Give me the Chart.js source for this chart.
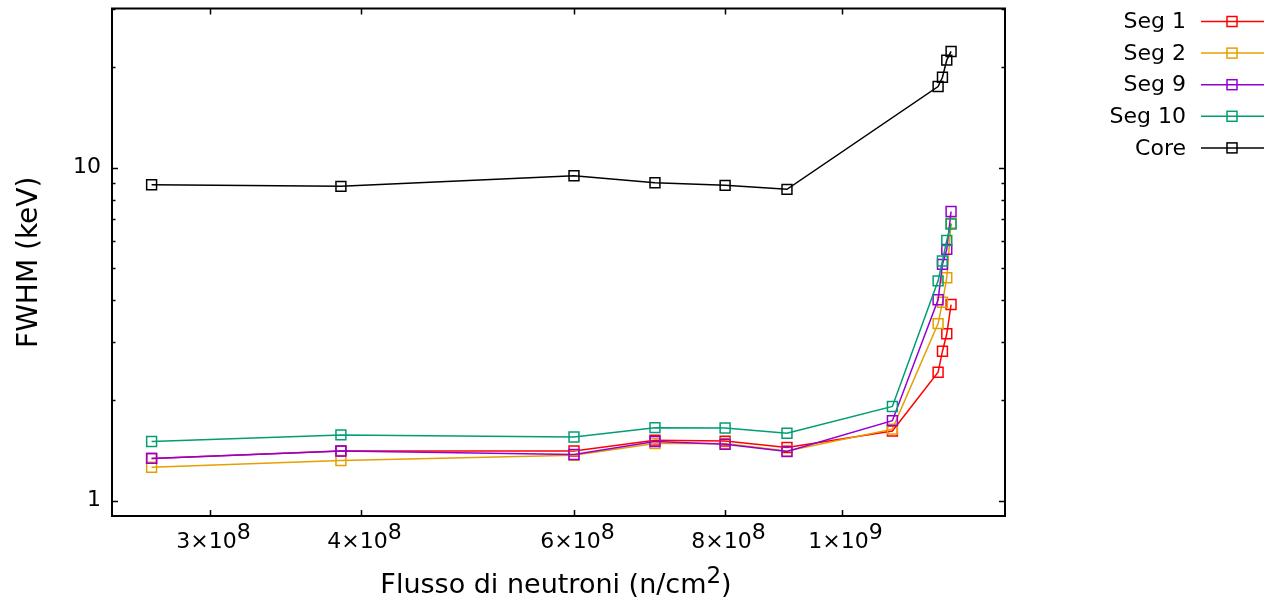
<!DOCTYPE html>
<html>
<head>
<meta charset="utf-8">
<script src="https://cdn.jsdelivr.net/npm/chart.js@4/dist/chart.umd.min.js"></script>
<style>
  html, body { margin: 0; background: #fff; }
  #wrap { width: 1279px; height: 609px; }
</style>
</head>
<body>
<div id="wrap"><canvas id="fwhmChart"></canvas></div>
<script>
// neutron flux (n/cm^2) at each measurement
const flux = [2.685e8, 3.85e8, 6.0e8, 7.0e8, 8.0e8, 9.0e8, 1.1e9, 1.20e9, 1.21e9, 1.22e9, 1.23e9];

// FWHM (keV) per segment, same order as flux
const seg1 = [1.34, 1.41, 1.41, 1.52, 1.51, 1.445, 1.62, 2.43, 2.81, 3.17, 3.88];
const seg2 = [1.26, 1.32, 1.37, 1.485, 1.485, 1.41, 1.64, 3.40, 3.94, 4.67, 6.81];
const seg9 = [1.34, 1.41, 1.377, 1.506, 1.478, 1.406, 1.739, 4.01, 5.12, 5.68, 7.38];
const seg10 = [1.506, 1.576, 1.554, 1.657, 1.653, 1.594, 1.918, 4.57, 5.24, 6.04, 6.77];
const core = [8.88, 8.78, 9.45, 9.0, 8.84, 8.6, null, 17.5, 18.66, 21.0, 22.3];

const seriesNames = ["Seg 1", "Seg 2", "Seg 9", "Seg 10", "Core"];
const seriesValues = [seg1, seg2, seg9, seg10, core];
const seriesColors = ["#ff0000", "#e69f00", "#9400d3", "#009e73", "#000000"];

// x tick labels are mantissa × 10^exponent
const xTickValues = [3e8, 4e8, 6e8, 8e8, 1e9];
const xTickMantissa = ["3", "4", "6", "8", "1"];
const xTickExponent = ["8", "8", "8", "8", "9"];
const yTickValues = [1, 10];
const yTickLabels = ["1", "10"];
const yMinorTicks = [2, 3, 4, 5, 6, 7, 8, 9, 20, 30];

const FONT = "'DejaVu Sans', Verdana, sans-serif";

const toPoints = (values) =>
  flux
    .map((x, i) => ({ x, y: values[i] }))
    .filter((p) => p.y !== null);

// draws [{text, size, rise}] pieces in a row, centred on cx
const drawRich = (ctx, parts, cx, y) => {
  const widths = parts.map((p) => {
    ctx.font = p.size + "px " + FONT;
    return ctx.measureText(p.text).width;
  });
  let x = cx - widths.reduce((s, w) => s + w, 0) / 2;
  ctx.textAlign = "left";
  ctx.textBaseline = "alphabetic";
  parts.forEach((p, i) => {
    ctx.font = p.size + "px " + FONT;
    ctx.fillText(p.text, x, y - (p.rise || 0));
    x += widths[i];
  });
};

// gnuplot-like frame with inward ticks, x labels, legend on the right
const gnuplotFrame = {
  id: "gnuplotFrame",
  afterDraw(chart) {
    const { ctx, chartArea: a, scales } = chart;
    ctx.save();
    ctx.strokeStyle = "#000";
    ctx.fillStyle = "#000";
    ctx.lineWidth = 1.5;

    const seg = (x1, y1, x2, y2) => {
      ctx.beginPath();
      ctx.moveTo(x1, y1);
      ctx.lineTo(x2, y2);
      ctx.stroke();
    };

    xTickValues.forEach((v, i) => {
      const px = Math.round(scales.x.getPixelForValue(v)) + 0.5;
      seg(px, a.bottom, px, a.bottom - 6);
      seg(px, a.top, px, a.top + 6);
      drawRich(ctx, [
        { text: xTickMantissa[i] + "×10", size: 22 },
        { text: xTickExponent[i], size: 22, rise: 9 },
      ], px + 3, 548);
    });
    yTickValues.forEach((v) => {
      const py = Math.round(scales.y.getPixelForValue(v)) + 0.5;
      seg(a.left, py, a.left + 6, py);
      seg(a.right, py, a.right - 6, py);
    });
    yMinorTicks.forEach((v) => {
      const py = Math.round(scales.y.getPixelForValue(v)) + 0.5;
      seg(a.left, py, a.left + 3.5, py);
      seg(a.right, py, a.right - 3.5, py);
    });

    ctx.lineWidth = 2;
    ctx.strokeRect(a.left, a.top, a.right - a.left, a.bottom - a.top);

    // x axis title
    drawRich(ctx, [
      { text: "Flusso di neutroni (n/cm", size: 27 },
      { text: "2", size: 23, rise: 10 },
      { text: ")", size: 27 },
    ], 556, 593);

    // legend
    ctx.font = "22px " + FONT;
    ctx.textAlign = "right";
    ctx.textBaseline = "middle";
    seriesNames.forEach((name, i) => {
      const y = 21.5 + i * 31.6;
      ctx.fillStyle = "#000";
      ctx.fillText(name, 1186, y + 1);
      ctx.strokeStyle = seriesColors[i];
      ctx.lineWidth = 1.5;
      seg(1201, y, 1264, y);
      ctx.strokeRect(1227, y - 5, 10, 10);
    });
    ctx.restore();
  },
};

const datasets = seriesNames.map((name, i) => ({
  label: name,
  data: toPoints(seriesValues[i]),
  borderColor: seriesColors[i],
  borderWidth: 1.5,
  pointStyle: "rect",
  pointRadius: 7,
  pointBorderWidth: 1.5,
  pointBorderColor: seriesColors[i],
  pointBackgroundColor: "rgba(0,0,0,0)",
  tension: 0,
  fill: false,
  order: seriesNames.length - i,
}));

new Chart(document.getElementById("fwhmChart"), {
  type: "line",
  data: { datasets },
  options: {
    responsive: true,
    maintainAspectRatio: false,
    animation: false,
    devicePixelRatio: 1,
    layout: { padding: { top: 6, right: 274, left: 0, bottom: 0 } },
    plugins: {
      legend: { display: false },
      tooltip: { enabled: false },
    },
    scales: {
      x: {
        type: "logarithmic",
        min: 2.49e8,
        max: 1.363e9,
        grid: { display: false, drawTicks: false },
        border: { display: false },
        afterBuildTicks: (scale) => {
          scale.ticks = xTickValues.map((value) => ({ value }));
        },
        afterFit: (scale) => {
          scale.height = 93;
          scale.paddingLeft = 0;
          scale.paddingRight = 0;
        },
        ticks: {
          display: false,
        },
      },
      y: {
        type: "logarithmic",
        min: 0.9,
        max: 30,
        grid: { display: false, drawTicks: false },
        border: { display: false },
        afterBuildTicks: (scale) => {
          scale.ticks = yTickValues.map((value) => ({ value }));
        },
        afterFit: (scale) => {
          scale.width = 112;
          scale.paddingTop = 0;
          scale.paddingBottom = 0;
        },
        ticks: {
          autoSkip: false,
          padding: 11,
          color: "#000",
          font: { family: FONT, size: 22 },
          callback: (value) => yTickLabels[yTickValues.indexOf(value)],
        },
        title: {
          display: true,
          text: "FWHM (keV)",
          color: "#000",
          font: { family: FONT, size: 28, lineHeight: 1.2 },
          padding: { top: 13, bottom: 0 },
        },
      },
    },
  },
  plugins: [gnuplotFrame],
});
</script>
</body>
</html>
